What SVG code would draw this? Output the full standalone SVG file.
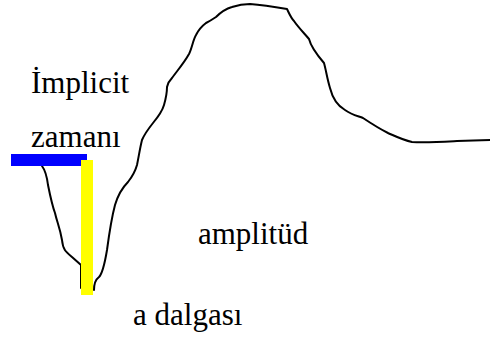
<svg xmlns="http://www.w3.org/2000/svg" width="490" height="340" viewBox="0 0 490 340">
<style>
.t{font-family:"Liberation Serif","Times New Roman",serif;font-size:31px;fill:#000}
.w{fill:none;stroke:#000;stroke-width:2;stroke-linejoin:round;stroke-linecap:round}
</style>
<rect width="490" height="340" fill="#fff"/>
<g id="connectors">
<path class="w" d="M42,166 C45,170 47,177 48,185 C50,195 52,205 55,213 C57,222 60,228 62,240 C63,250 66,252 72,257 L81,265 L81,288 M94,290 C94,285 95,280 99,277 C103,273 105,262 107,250 C109,235 111,220 115,205 C118,195 122,188 128,182 C132,177 135,172 137,165 C139,155 140,148 142,140 C145,133 149,128 153,123 C158,117 162,112 164,105 C166,98 167,93 167,87 C168,82 170,80 172,78 C177,71 184,63 189,54 C192,48 193,40 196,35 C199,29 202,26 206,23 C210,21 213,19 216,17 C221,12 225,9 232,7 C238,5 243,4 250,4 C262,5 275,7 287,9 C289,13 291,18 294,21 C298,27 304,33 309,39 C311,47 318,56 324,63 C326,70 327,78 330,88 C333,100 338,106 345,110 C352,115 358,116 363,118 C372,124 378,128 388,133 C397,137 403,140 412,142 C425,143 440,142 457,141 L490,140"/>
</g>
<g id="bar-blue"><rect x="11" y="154" width="76" height="12" fill="#0000ff"/></g>
<g id="bar-yellow"><rect x="81" y="160" width="12" height="135" fill="#ffff00"/></g>
<g id="label-implicit"><text class="t" x="31" y="93">İmplicit</text></g>
<g id="label-zamani"><text class="t" x="31" y="147">zamanı</text></g>
<g id="label-amplitud"><text class="t" x="198" y="244">amplitüd</text></g>
<g id="label-dalgasi"><text class="t" x="133" y="325">a dalgası</text></g>
</svg>
